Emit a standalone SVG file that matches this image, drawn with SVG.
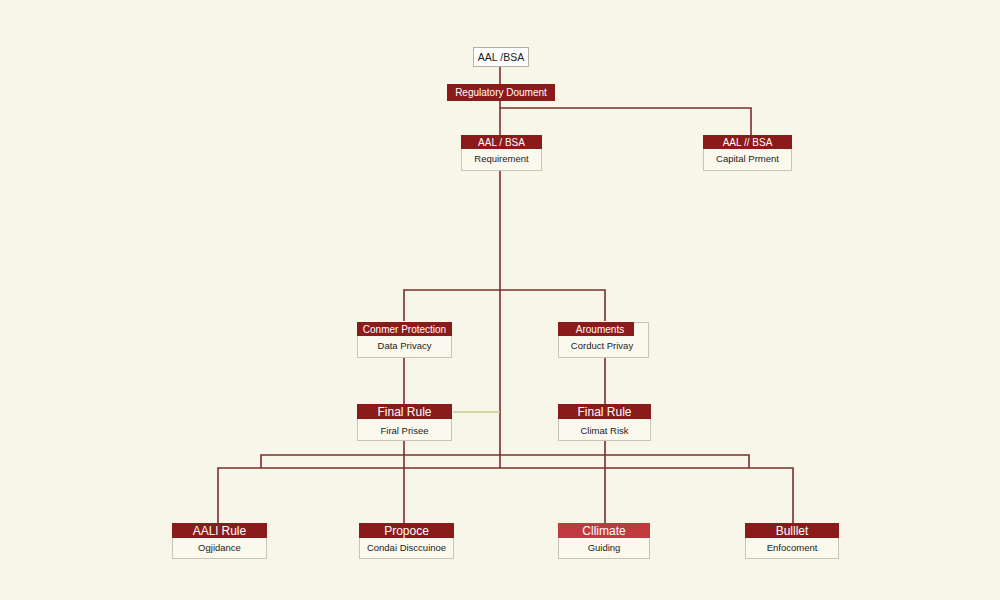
<svg xmlns="http://www.w3.org/2000/svg" width="1000" height="600" viewBox="0 0 1000 600">
<style>
.bg{fill:#f8f6e8}
.hd{fill:#8b1a1a}
.hdl{fill:#c0393f}
.bd{fill:#fbf9ee;stroke:#c9c4b6;stroke-width:1}
.w{fill:#ffffff;stroke:#b5b0a5;stroke-width:1}
.ht{font-family:"Liberation Sans",Arial,sans-serif;font-size:10px;fill:#ffffff;text-anchor:middle}
.hb{font-family:"Liberation Sans",Arial,sans-serif;font-size:12px;fill:#ffffff;text-anchor:middle}
.bt{font-family:"Liberation Sans",Arial,sans-serif;font-size:9.5px;fill:#222;text-anchor:middle}
.tt{font-family:"Liberation Sans",Arial,sans-serif;font-size:10.5px;fill:#222;text-anchor:middle}
.c{fill:none;stroke:#7a2e2e;stroke-width:1.6}
.o{fill:none;stroke:#c9c98a;stroke-width:1.6}
</style>
<rect class="bg" x="0" y="0" width="1000" height="600"/>
<g id="connectors">
<path class="c" d="M500 66V85"/>
<path class="c" d="M500 101V468"/>
<path class="c" d="M500 108H751V135"/>
<path class="c" d="M404 321V290H605V321"/>
<path class="c" d="M404 357V404"/>
<path class="c" d="M605 357V404"/>
<path class="c" d="M404 440V523"/>
<path class="c" d="M605 440V523"/>
<path class="c" d="M261 468V455H749V468"/>
<path class="c" d="M218 523V468H793V523"/>
<path class="o" d="M453 412H500"/>
</g>
<g id="n-top">
<rect class="w" x="473.5" y="47.5" width="55" height="19"/>
<text class="tt" x="501" y="61">AAL /BSA</text>
</g>
<g id="n-regdoc">
<rect class="hd" x="447" y="84" width="108" height="17"/>
<text class="ht" x="501" y="96">Regulatory Doument</text>
</g>
<g id="n-requirement">
<rect class="bd" x="461.5" y="135.5" width="80" height="35"/>
<rect class="hd" x="461" y="135" width="81" height="14"/>
<text class="ht" x="501.5" y="146">AAL / BSA</text>
<text class="bt" x="501.5" y="162">Requirement</text>
</g>
<g id="n-capital">
<rect class="bd" x="703.5" y="135.5" width="88" height="35"/>
<rect class="hd" x="703" y="135" width="89" height="14"/>
<text class="ht" x="747.5" y="146">AAL // BSA</text>
<text class="bt" x="747.5" y="162">Capital Prment</text>
</g>
<g id="n-consumer">
<rect class="bd" x="357.5" y="322.5" width="94" height="35"/>
<rect class="hd" x="357" y="322" width="95" height="14"/>
<text class="ht" x="404.5" y="333">Conmer Protection</text>
<text class="bt" x="404.5" y="349">Data Privacy</text>
</g>
<g id="n-arguments">
<rect class="bd" x="558.5" y="322.5" width="90" height="35"/>
<rect class="hd" x="558" y="322" width="76" height="14"/>
<text class="ht" x="600" y="333">Arouments</text>
<text class="bt" x="602" y="349">Corduct Privay</text>
</g>
<g id="n-final-left">
<rect class="bd" x="357.5" y="404.5" width="94" height="36"/>
<rect class="hd" x="357" y="404" width="95" height="15"/>
<text class="hb" x="404.5" y="416">Final Rule</text>
<text class="bt" x="404.5" y="434">Firal Prisee</text>
</g>
<g id="n-final-right">
<rect class="bd" x="558.5" y="404.5" width="92" height="36"/>
<rect class="hd" x="558" y="404" width="93" height="15"/>
<text class="hb" x="604.5" y="416">Final Rule</text>
<text class="bt" x="604.5" y="434">Climat Risk</text>
</g>
<g id="n-aalrule">
<rect class="bd" x="172.5" y="523.5" width="94" height="35"/>
<rect class="hd" x="172" y="523" width="95" height="15"/>
<text class="hb" x="219.5" y="535">AALl Rule</text>
<text class="bt" x="219.5" y="551">Ogjidance</text>
</g>
<g id="n-propoce">
<rect class="bd" x="359.5" y="523.5" width="94" height="35"/>
<rect class="hd" x="359" y="523" width="95" height="15"/>
<text class="hb" x="406.5" y="535">Propoce</text>
<text class="bt" x="406.5" y="551">Condai Disccuinoe</text>
</g>
<g id="n-climate">
<rect class="bd" x="558.5" y="523.5" width="91" height="35"/>
<rect class="hdl" x="558" y="523" width="92" height="15"/>
<text class="hb" x="604" y="535">Cllimate</text>
<text class="bt" x="604" y="551">Guiding</text>
</g>
<g id="n-bullet">
<rect class="bd" x="745.5" y="523.5" width="93" height="35"/>
<rect class="hd" x="745" y="523" width="94" height="15"/>
<text class="hb" x="792" y="535">Bulllet</text>
<text class="bt" x="792" y="551">Enfocoment</text>
</g>
</svg>
